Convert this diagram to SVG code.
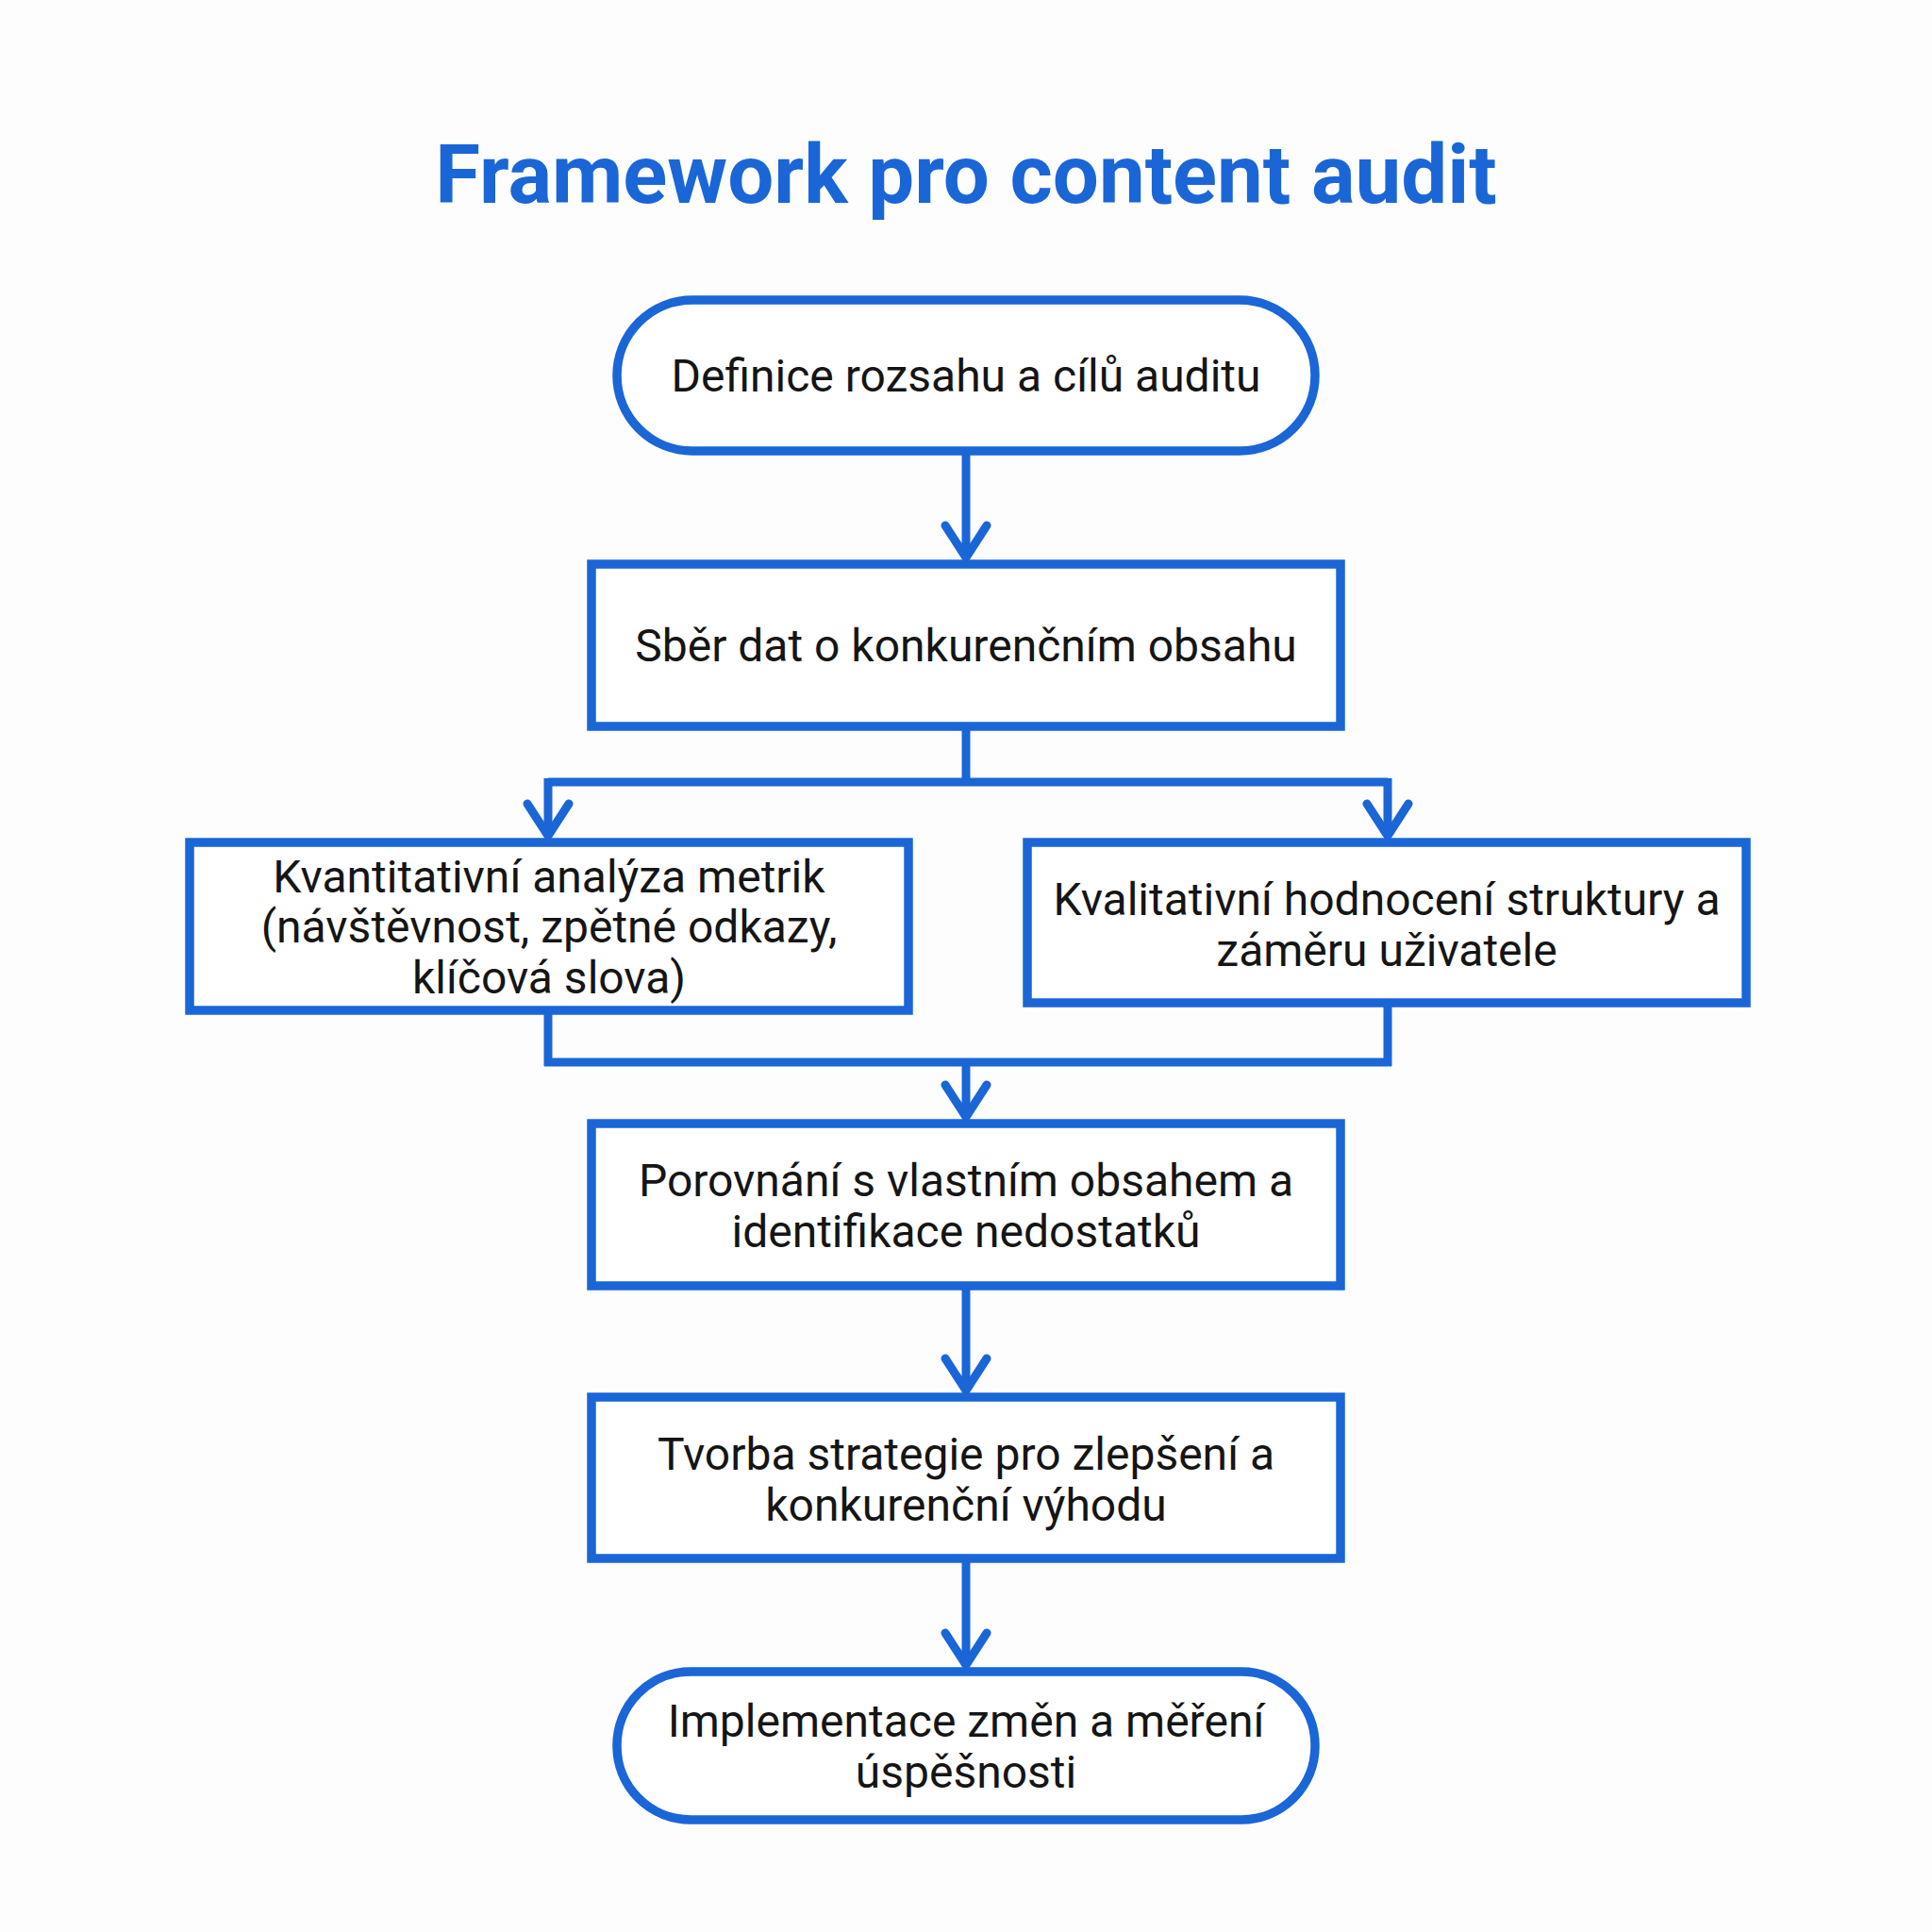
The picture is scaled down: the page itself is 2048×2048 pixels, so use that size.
<svg xmlns="http://www.w3.org/2000/svg" width="2048" height="2048" viewBox="0 0 2048 2048">
  <defs>
    <style>
      .node { fill: #ffffff; stroke: #1a66d6; stroke-width: 9.5; }
      .conn { fill: none; stroke: #1a66d6; stroke-width: 9; stroke-linejoin: miter; }
      .lbl { font-family: Roboto, "Liberation Sans", sans-serif; font-size: 48px; fill: #151515; text-anchor: middle; }
      .title { font-family: Roboto, "Liberation Sans", sans-serif; font-weight: 700; font-size: 87px; fill: #1a66d6; text-anchor: middle; }
    </style>
    <marker id="arrow" markerUnits="userSpaceOnUse" viewBox="-40 -30 48 60" refX="0" refY="0" markerWidth="48" markerHeight="60" orient="auto">
      <path d="M -34 -22 L 0 0 L -34 22" fill="none" stroke="#1a66d6" stroke-width="9" stroke-linecap="round" stroke-linejoin="round"/>
    </marker>
  </defs>
  <rect width="2048" height="2048" fill="#fdfdfd"/>
  <text class="title" x="1024" y="215">Framework pro content audit</text>

  <g id="connectors">
    <path class="conn" d="M 1024 482 L 1024 591" marker-end="url(#arrow)"/>
    <path class="conn" d="M 1024 770 L 1024 829"/>
    <path class="conn" d="M 581 829 L 1471 829"/>
    <path class="conn" d="M 581 825 L 581 886" marker-end="url(#arrow)"/>
    <path class="conn" d="M 1471 825 L 1471 886" marker-end="url(#arrow)"/>
    <path class="conn" d="M 581 1071 L 581 1130"/>
    <path class="conn" d="M 1471 1063 L 1471 1130"/>
    <path class="conn" d="M 577 1126 L 1475 1126"/>
    <path class="conn" d="M 1024 1126 L 1024 1184" marker-end="url(#arrow)"/>
    <path class="conn" d="M 1024 1363 L 1024 1474" marker-end="url(#arrow)"/>
    <path class="conn" d="M 1024 1652 L 1024 1765" marker-end="url(#arrow)"/>
  </g>

  <g id="node-definice">
    <rect class="node" x="654" y="318" width="740" height="160" rx="80" ry="80"/>
    <text class="lbl" x="1024" y="415">Definice rozsahu a cílů auditu</text>
  </g>
  <g id="node-sber">
    <rect class="node" x="627" y="598" width="794" height="172"/>
    <text class="lbl" x="1024" y="701">Sběr dat o konkurenčním obsahu</text>
  </g>
  <g id="node-kvantitativni">
    <rect class="node" x="201" y="893" width="762" height="178"/>
    <text class="lbl" x="582" y="946">Kvantitativní analýza metrik</text>
    <text class="lbl" x="582" y="999">(návštěvnost, zpětné odkazy,</text>
    <text class="lbl" x="582" y="1053">klíčová slova)</text>
  </g>
  <g id="node-kvalitativni">
    <rect class="node" x="1089" y="893" width="762" height="170"/>
    <text class="lbl" x="1470" y="970">Kvalitativní hodnocení struktury a</text>
    <text class="lbl" x="1470" y="1024">záměru uživatele</text>
  </g>
  <g id="node-porovnani">
    <rect class="node" x="627" y="1191" width="794" height="172"/>
    <text class="lbl" x="1024" y="1268">Porovnání s vlastním obsahem a</text>
    <text class="lbl" x="1024" y="1322">identifikace nedostatků</text>
  </g>
  <g id="node-tvorba">
    <rect class="node" x="627" y="1481" width="794" height="171"/>
    <text class="lbl" x="1024" y="1558">Tvorba strategie pro zlepšení a</text>
    <text class="lbl" x="1024" y="1612">konkurenční výhodu</text>
  </g>
  <g id="node-implementace">
    <rect class="node" x="654" y="1772" width="740" height="157" rx="78" ry="78"/>
    <text class="lbl" x="1024" y="1841">Implementace změn a měření</text>
    <text class="lbl" x="1024" y="1895">úspěšnosti</text>
  </g>
</svg>
